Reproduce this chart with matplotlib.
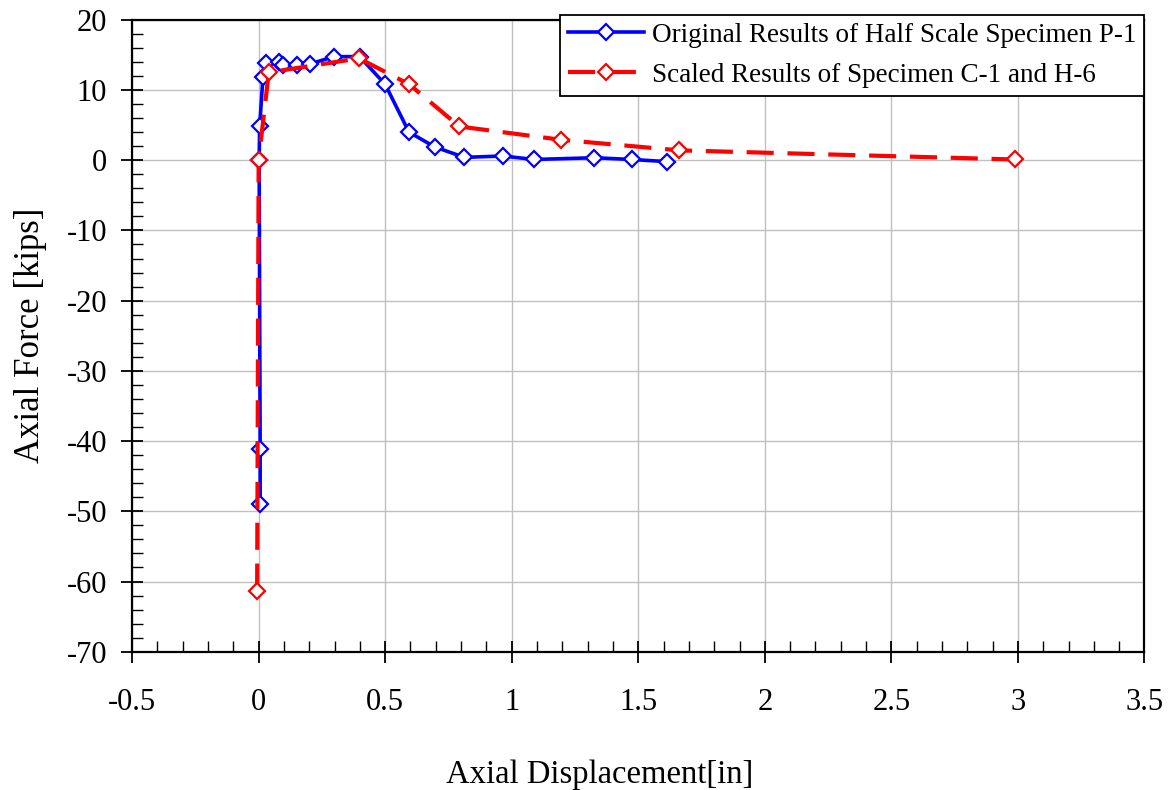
import numpy as np
import matplotlib.pyplot as plt
from matplotlib.ticker import MultipleLocator

# half scale specimen P-1
p1_disp = [0.006, 0.006, 0.002, 0.004, 0.017, 0.03, 0.08, 0.095, 0.153, 0.203,
           0.297, 0.399, 0.50, 0.594, 0.695, 0.813, 0.965, 1.087, 1.327, 1.474, 1.612]
p1_force = [-48.9, -41.1, 0.0, 4.8, 11.8, 13.9, 14.0, 13.6, 13.6, 13.7,
            14.75, 14.75, 10.8, 4.0, 1.9, 0.4, 0.6, 0.1, 0.35, 0.1, -0.2]

# scaled C-1 / H-6 results
ch_disp = [-0.006, 0.0, 0.04, 0.397, 0.595, 0.793, 1.196, 1.662, 2.988]
ch_force = [-61.3, 0.0, 12.5, 14.5, 10.8, 4.8, 2.9, 1.4, 0.1]

plt.rcParams['font.family'] = ['Liberation Serif', 'DejaVu Serif']
plt.rcParams['axes.unicode_minus'] = False

fig = plt.figure(figsize=(11.69, 7.9), dpi=100)
ax = fig.add_axes([0.113, 0.175, 0.866, 0.8])

ax.plot(p1_disp, p1_force, color='#0000ff', lw=2.6, marker='D', ms=8.5,
        mfc='white', mec='#0000ff', mew=1.6, zorder=3,
        label='Original Results of Half Scale Specimen P-1')
ax.plot(ch_disp, ch_force, color='#ff0000', lw=3.0, ls=(0, (6.5, 3.3)), marker='D', ms=8.5,
        mfc='white', mec='#ff0000', mew=1.6, zorder=4,
        label='Scaled Results of Specimen C-1 and H-6')

ax.set_xlim(-0.5, 3.5)
ax.set_ylim(-70, 20)
ax.xaxis.set_minor_locator(MultipleLocator(0.1))
ax.yaxis.set_major_locator(MultipleLocator(10))
ax.yaxis.set_minor_locator(MultipleLocator(2))
ax.set_xticks(np.arange(-0.5, 3.51, 0.5))
ax.set_xticklabels(['-0.5', '0', '0.5', '1', '1.5', '2', '2.5', '3', '3.5'])

ax.grid(True, which='major', color='#c0c0c0', lw=1.0)
ax.set_axisbelow(True)
ax.tick_params(which='major', direction='inout', length=16, width=1.3,
               labelsize=22, pad=10)
ax.tick_params(which='minor', direction='in', length=8, width=1.0)
ax.tick_params(axis='x', which='major', pad=18)
for s in ax.spines.values():
    s.set_linewidth(1.6)

ax.set_xlabel('Axial Displacement[in]', fontsize=23.5)
ax.xaxis.set_label_coords((600 - 132) / 1013, -0.171)
ax.set_ylabel('Axial Force [kips]', fontsize=25, labelpad=14)

leg = ax.legend(loc='upper right', bbox_to_anchor=(1.0, 1.008), fontsize=19.5,
                frameon=True, fancybox=False, framealpha=1, edgecolor='black',
                borderpad=0.3, handlelength=2.8, handletextpad=0.3, labelspacing=0.55,
                borderaxespad=0)
leg.get_frame().set_linewidth(1.3)

fig.savefig('out.png', dpi=100)
